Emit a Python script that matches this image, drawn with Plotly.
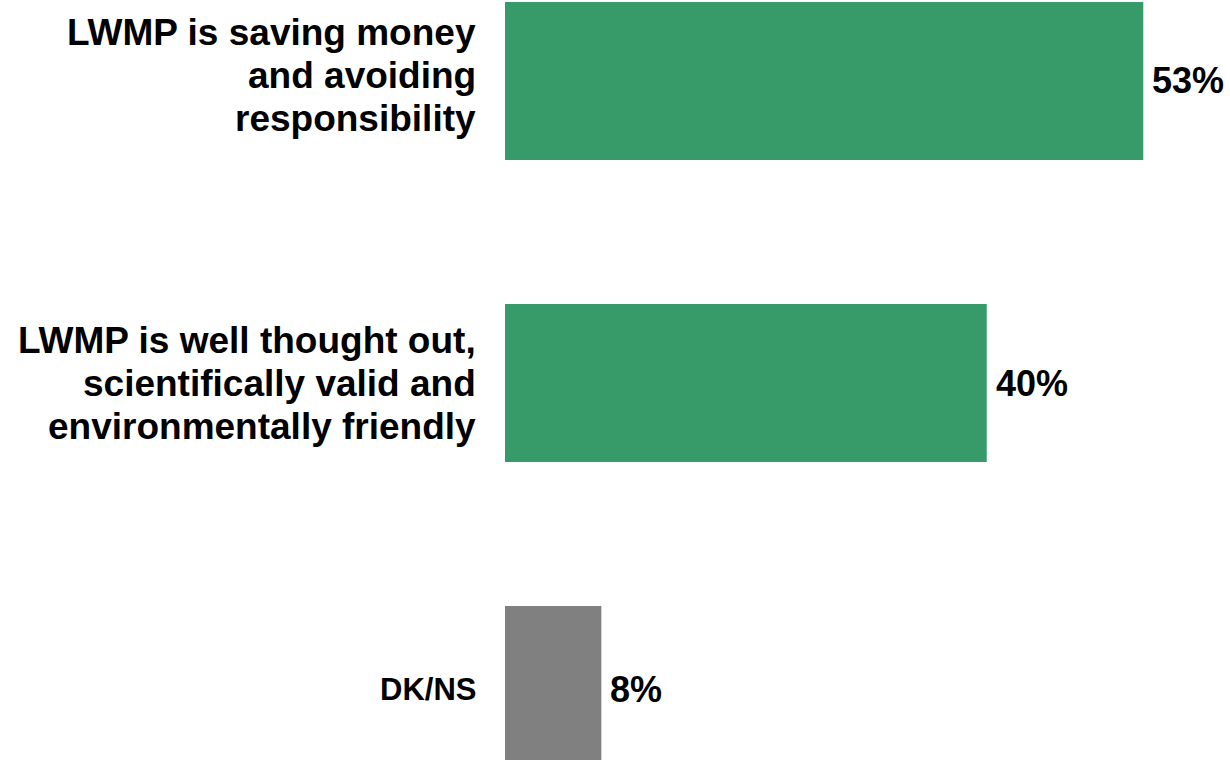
import plotly.graph_objects as go

categories = [
    "LWMP is saving money<br>and avoiding<br>responsibility",
    "LWMP is well thought out,<br>scientifically valid and<br>environmentally friendly",
    "DK/NS",
]
values = [53, 40, 8]
bar_colors = ["#379A69", "#379A69", "#808080"]

# layout-only settings (not data)
label_sizes = [37, 37, 31]
label_nudge = [5, 0, -4]   # px vertical nudge of each label block
FONT = "Liberation Sans, Arial, sans-serif"
LINE_H = 43

fig = go.Figure()
fig.add_trace(go.Bar(
    x=values,
    y=categories,
    orientation="h",
    marker=dict(color=bar_colors, line=dict(width=0)),
    width=0.523,
    hoverinfo="skip",
))

annotations = []
for cat, val, size, nudge in zip(categories, values, label_sizes, label_nudge):
    lines = cat.split("<br>")
    n = len(lines)
    for i, line in enumerate(lines):
        offset = ((n - 1) / 2 - i) * LINE_H + nudge
        annotations.append(dict(
            x=0, xref="paper", xanchor="right", xshift=-27,
            y=cat, yref="y", yanchor="middle", yshift=offset,
            text="<b>" + line + "</b>", showarrow=False,
            font=dict(family=FONT, size=size, color="#000000"),
        ))
    annotations.append(dict(
        x=val, xref="x", xanchor="left", xshift=7,
        y=cat, yref="y", yanchor="middle", yshift=(nudge if nudge < 0 else 0),
        text="<b>%d%%</b>" % val, showarrow=False,
        font=dict(family=FONT, size=36, color="#000000"),
    ))

fig.update_layout(
    width=1230, height=760,
    margin=dict(l=505, r=0, t=0, b=0),
    paper_bgcolor="white", plot_bgcolor="white",
    showlegend=False,
    annotations=annotations,
    xaxis=dict(range=[0, 60.2], showgrid=False, zeroline=False,
               showticklabels=False, ticks="", showline=False, fixedrange=True),
    yaxis=dict(range=[2.248, -0.268], showgrid=False, zeroline=False,
               showticklabels=False, ticks="", showline=False, fixedrange=True),
)

fig.write_html(
    "out.html",
    config={"displayModeBar": False},
    post_script="document.body.style.margin='0';document.body.style.overflow='hidden';",
)
